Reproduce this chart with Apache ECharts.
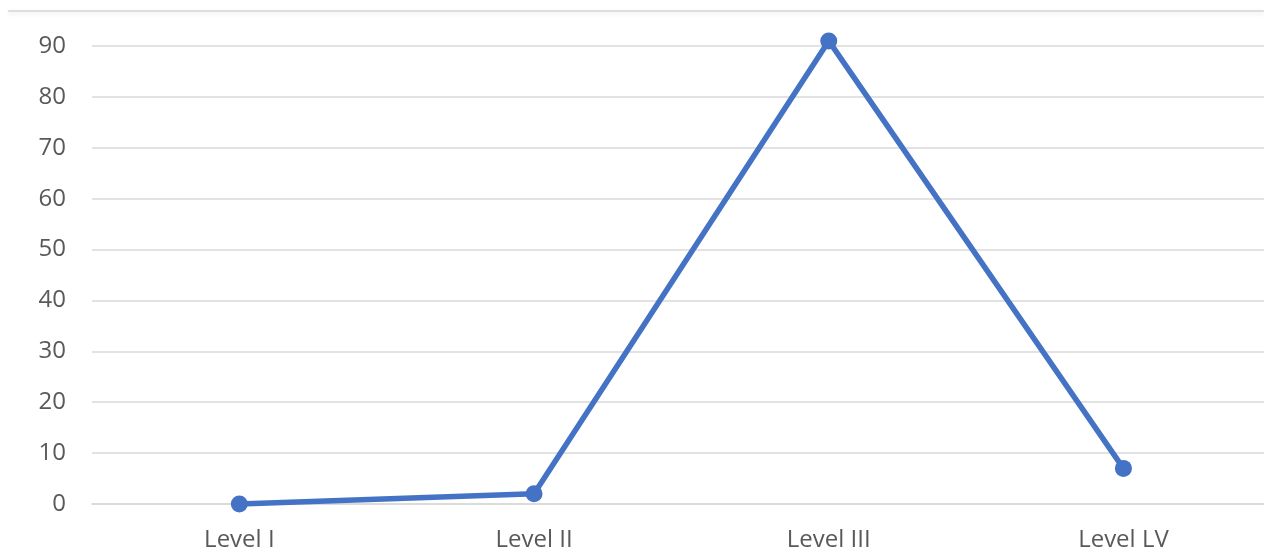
<!DOCTYPE html>
<html>
<head>
<meta charset="utf-8">
<script src="https://cdn.jsdelivr.net/npm/echarts@6/dist/echarts.min.js"></script>
<style>
  html, body { margin: 0; padding: 0; background: #ffffff; }
  #chart { width: 1264px; height: 550px; }
</style>
</head>
<body>
<div id="chart"></div>
<script>
// Categories and values
var categories = ['Level I', 'Level II', 'Level III', 'Level LV'];
var values = [0, 2, 91, 7];
var yTicks = { min: 0, max: 90, interval: 10 };

// Category slots are placed on a numeric axis so the plot can run past the right edge
var categoryIndex = categories.map(function (c, i) { return i; });
var points = values.map(function (v, i) { return [categoryIndex[i], v]; });

var chart = echarts.init(document.getElementById('chart'), null, { renderer: 'canvas' });
var fontFamily = '"Segoe UI", "Open Sans", "Noto Sans", sans-serif';

chart.setOption({
  backgroundColor: '#ffffff',
  animation: false,
  graphic: [{
    type: 'line',
    shape: { x1: 8, y1: 11, x2: 1264, y2: 11 },
    style: { stroke: '#d4d4d4', lineWidth: 1.5, shadowColor: 'rgba(0,0,0,0.12)', shadowBlur: 4, shadowOffsetY: 2 }
  }],
  grid: { left: 92, right: 0, top: 46, height: 458, containLabel: false, outerBoundsMode: 'none' },
  xAxis: {
    type: 'value',
    min: -0.5,
    max: 3.477,
    axisLine: { show: true, onZero: false, lineStyle: { color: '#d9d9d9', width: 1.5 } },
    axisTick: { show: false },
    axisLabel: {
      color: '#595959', fontSize: 24, fontFamily: fontFamily, margin: 24,
      customValues: categoryIndex,
      formatter: function (v) { return categories[Math.round(v)]; }
    },
    splitLine: { show: false }
  },
  yAxis: {
    type: 'value',
    min: yTicks.min,
    max: yTicks.max,
    interval: yTicks.interval,
    axisLine: { show: false },
    axisTick: { show: false },
    axisLabel: { color: '#595959', fontSize: 24, fontFamily: fontFamily, margin: 26 },
    splitLine: { show: true, lineStyle: { color: '#d9d9d9', width: 1.5 } }
  },
  series: [{
    type: 'line',
    data: points,
    clip: false,
    symbol: 'circle',
    symbolSize: 17,
    lineStyle: { color: '#4472c4', width: 5.5 },
    itemStyle: { color: '#4472c4' }
  }]
});
</script>
</body>
</html>
